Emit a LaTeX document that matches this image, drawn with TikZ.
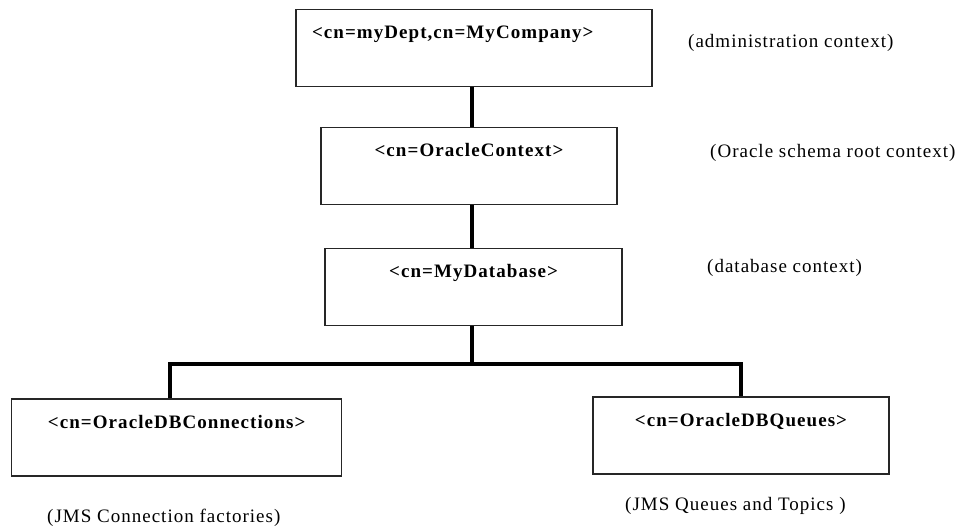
\documentclass[tikz,border=0pt]{standalone}
\usepackage{fontspec}
\setmainfont{Liberation Serif}
\newfontfamily\ctxfont[LetterSpace=5.6]{Liberation Serif}
\newfontfamily\notefont[LetterSpace=5.3]{Liberation Serif}
\usetikzlibrary{calc}

\begin{document}
\begin{tikzpicture}[
    x=1pt, y=-1pt,                    % <── one unit per pixel, y runs down
    ctx_node/.style={draw=black!85, line width=1.2pt, inner xsep=0pt, inner ysep=0pt,
        text height=29pt, text depth=48pt,
        font=\ctxfont\bfseries\fontsize{19pt}{22pt}\selectfont},
    note_node/.style={anchor=west, inner sep=0pt,
        font=\notefont\fontsize{19pt}{22pt}\selectfont},
    link/.style={line width=4pt, black}
    ]
    \path[use as bounding box] (0,0) rectangle (960,529);

    % Contexts
    \node[ctx_node, minimum width=356pt, text width=324pt, inner xsep=16pt, align=left]
        (admin) at (474,48) {<cn=myDept,cn=MyCompany>};
    \node[ctx_node, minimum width=296pt] (oracle) at (469,166) {<cn=OracleContext>};
    \node[ctx_node, minimum width=297pt] (db) at (473.5,287) {<cn=MyDatabase>};
    \node[ctx_node, minimum width=330pt] (conns) at (176.7,437.5) {<cn=OracleDBConnections>};
    \node[ctx_node, minimum width=296pt] (queues) at (741,435.5) {<cn=OracleDBQueues>};

    % Notes
    \node[note_node] (adminnote) at (688,42.5) {(administration context)};
    \node[note_node] (oraclenote) at (710,152.5) {(Oracle schema root context)};
    \node[note_node] (dbnote) at (707,267.5) {(database context)};
    \node[note_node] (connsnote) at (47,518) {(JMS Connection factories)};
    \node[note_node] (queuesnote) at (625,506) {(JMS Queues and Topics )};

    % Links
    \coordinate (trunk) at (472,0);
    \coordinate (bus) at (0,364);
    \draw[link] (admin.south -| trunk) -- (oracle.north -| trunk);
    \draw[link] (oracle.south -| trunk) -- (db.north -| trunk);
    \draw[link] (db.south -| trunk) -- (bus -| trunk);
    \draw[link] ([xshift=-6.7pt]conns.north) |- (bus -| trunk) -| (queues.north);
\end{tikzpicture}
\end{document}
